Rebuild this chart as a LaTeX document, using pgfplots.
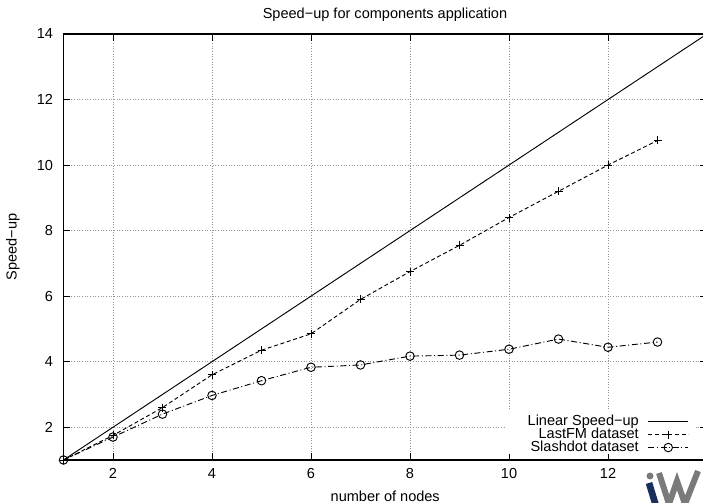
\documentclass[border=0pt]{standalone}
\usepackage{fontspec}
\setmainfont{Liberation Sans}
\usepackage{pgfplots}
\pgfplotsset{compat=1.18}
\definecolor{logonavy}{HTML}{1B2F5E}
\definecolor{logogray}{HTML}{7A7A7A}
\begin{document}
\begin{tikzpicture}
\begin{axis}[
  scale only axis, width=482.625pt, height=319.5pt,
  xmin=1, xmax=14, ymin=1, ymax=14,
  xtick={2,4,...,12}, ytick={2,4,...,14},
  font=\fontsize{10.9}{13}\selectfont,
  /pgf/number format/assume math mode=true,
  tick align=inside, major tick length=5pt,
  grid=major,
  grid style={gray!85, line width=0.6pt, dash pattern=on 0.7pt off 1.3pt},
  axis line style={line width=0.8pt},
  every tick/.style={black, line width=0.6pt},
  xticklabel style={yshift=-3pt}, yticklabel style={xshift=-4.3pt},
  clip mode=individual,
  xlabel={number of nodes},
  xlabel style={at={(axis description cs:0.5,-0.086)}, anchor=center},
  ylabel={Speed−up},
  ylabel style={at={(axis description cs:-0.0785,0.5)}, anchor=center},
  legend plot pos=right, legend cell align=right,
  legend style={draw=none, fill=none, at={(axis cs:13.636,2.38)}, anchor=north east,
    inner sep=0pt, row sep=0pt, column sep=6.75pt,
    nodes={inner sep=0pt, text height=7.5pt, text depth=2.25pt}},
  legend image code/.code={\draw[mark repeat=2,mark phase=2] plot coordinates {(0pt,0pt) (15pt,0pt) (30pt,0pt)};},
]
\fill[white] (axis cs:9.92,1.17) rectangle (axis cs:13.76,2.52);
\addplot[black, line width=0.7pt] coordinates {(1,1) (14,14)};
\addlegendentry{Linear Speed−up}
\addplot[black, line width=0.7pt, dash pattern=on 3pt off 2pt, mark=+, mark size=3pt, mark options={solid}] coordinates {
(1,1) (2,1.75) (3,2.6) (4,3.6) (5,4.35) (6,4.85) (7,5.9) (8,6.75) (9,7.55) (10,8.4) (11,9.2) (12,10.0) (13,10.75)};
\addlegendentry{LastFM dataset}
\addplot[black, line width=0.7pt, dash pattern=on 4.5pt off 2pt on 0.7pt off 2pt, mark=o, mark size=3.2pt, mark options={solid}] coordinates {
(1,1) (2,1.7) (3,2.4) (4,2.97) (5,3.42) (6,3.83) (7,3.9) (8,4.17) (9,4.2) (10,4.38) (11,4.69) (12,4.44) (13,4.6)};
\addlegendentry{Slashdot dataset}
\end{axis}
\pgfresetboundingbox
\begin{scope}[shift={(current axis.south west)}, x=0.75pt, y=-0.75pt, shift={(-63.5,-460)}]
\path[use as bounding box] (0,0) rectangle (703,503);
\node[font=\fontsize{10.9}{13}\selectfont, inner sep=0pt, anchor=base] at (385,18.5) {Speed−up for components application};
\fill[logogray] (650,476) circle (3.5);
\draw[logonavy, line width=5pt] (649,483) -- (656,506);
\draw[logogray, line width=4.5pt, line join=miter] (659,473) -- (669,504) -- (677,481) -- (685,504) -- (698,471);
\end{scope}
\end{tikzpicture}
\end{document}
